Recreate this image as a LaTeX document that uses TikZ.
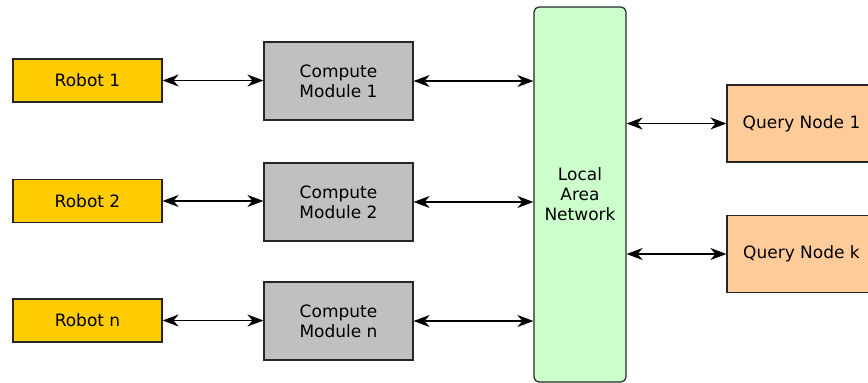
\documentclass[tikz,border=0pt]{standalone}
\usepackage{fontspec}
\setmainfont{DejaVu Sans}
\usetikzlibrary{arrows.meta}
\definecolor{robotc}{HTML}{FFCC00}
\definecolor{compc}{HTML}{C0C0C0}
\definecolor{lanc}{HTML}{CCFFCC}
\definecolor{queryc}{HTML}{FFCC99}
\begin{document}
\begin{tikzpicture}[x=1pt,y=-1pt,
  box/.style={draw=black!85, line width=1.2pt, align=center, inner sep=0pt,
    font=\fontsize{17}{20}\selectfont},
  robotbox/.style={box, fill=robotc, minimum width=149pt, minimum height=43pt},
  compbox/.style={box, fill=compc, minimum width=149pt, minimum height=78pt},
  querybox/.style={box, fill=queryc, minimum width=149pt, minimum height=77pt},
  lanbox/.style={box, fill=lanc, minimum width=92pt, minimum height=375pt, rounded corners=5pt},
  link/.style={line width=1.2pt, {Stealth[length=16pt,width=12pt,inset=5pt]}-{Stealth[length=16pt,width=12pt,inset=5pt]}}
]
\useasboundingbox (0,0) rectangle (868,383);
\node[robotbox] (r1) at (87.5,80.5) {Robot 1};
\node[robotbox] (r2) at (87.5,201) {Robot 2};
\node[robotbox] (rn) at (87.5,320.5) {Robot n};
\node[compbox] (c1) at (338.5,81) {Compute\\Module 1};
\node[compbox] (c2) at (338.5,202) {Compute\\Module 2};
\node[compbox] (cn) at (338.5,321) {Compute\\Module n};
\node[lanbox] (lan) at (580,194.5) {Local\\Area\\Network};
\node[querybox] (q1) at (801.5,123.5) {Query Node 1};
\node[querybox] (qk) at (801.5,254) {Query Node k};
\draw[link] (r1.east) -- (r1.east -| c1.west);
\draw[link] (r2.east) -- (r2.east -| c2.west);
\draw[link] (rn.east) -- (rn.east -| cn.west);
\draw[link] (c1.east) -- (c1.east -| lan.west);
\draw[link] (c2.east) -- (c2.east -| lan.west);
\draw[link] (cn.east) -- (cn.east -| lan.west);
\draw[link] (q1.west -| lan.east) -- (q1.west);
\draw[link] (qk.west -| lan.east) -- (qk.west);
\end{tikzpicture}
\end{document}
